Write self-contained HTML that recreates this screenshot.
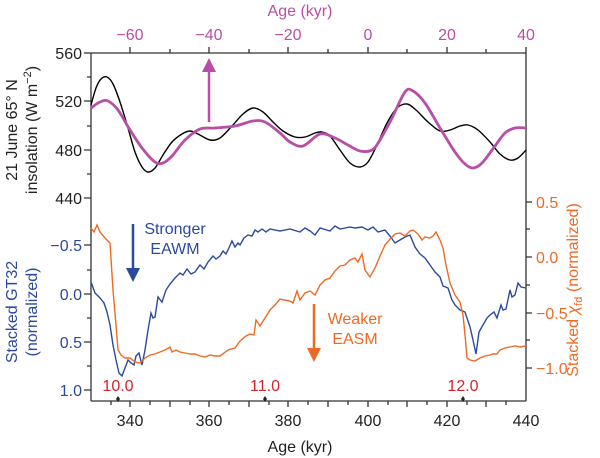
<!DOCTYPE html><html><head><style>body{margin:0;background:#fff}svg{display:block}text{font-family:"Liberation Sans",sans-serif}</style></head><body>
<svg width="600" height="458" viewBox="0 0 600 458" xmlns="http://www.w3.org/2000/svg">
<g stroke="#333" stroke-width="1.3" fill="none">
<line x1="91" y1="53" x2="91" y2="401"/><line x1="91" y1="53" x2="526" y2="53"/><line x1="91" y1="401" x2="526" y2="401"/><line x1="526" y1="53" x2="526" y2="401"/>
<path d="M130,53v-6M170,53v-4M209,53v-6M249,53v-4M288,53v-6M328,53v-4M368,53v-6M407,53v-4M447,53v-6M486,53v-4M526,53v-6"/>
<path d="M111,401v4M130,401v6M150,401v4M170,401v6M190,401v4M209,401v6M229,401v4M249,401v6M269,401v4M288,401v6M308,401v4M328,401v6M348,401v4M368,401v6M388,401v4M407,401v6M427,401v4M447,401v6M467,401v4M486,401v6M506,401v4"/>
<path d="M91,53h-7M91,77h-4M91,101h-7M91,126h-4M91,150h-7M91,174h-4M91,198h-7"/>
<path d="M91,245h-7M91,270h-4M91,294h-7M91,318h-4M91,342h-7M91,366h-4M91,390h-7"/>
<path d="M526,202h6M526,229h4M526,257h6M526,285h4M526,313h6M526,340h4M526,368h6"/>
</g>
<g font-size="16" fill="#222" text-anchor="end"><text x="82" y="59">560</text><text x="82" y="107">520</text><text x="82" y="156">480</text><text x="82" y="204">440</text></g>
<g font-size="16" fill="#2b4a9b" text-anchor="end"><text x="82" y="251">−0.5</text><text x="82" y="300">0.0</text><text x="82" y="348">0.5</text><text x="82" y="396">1.0</text></g>
<g font-size="16" fill="#ee6a24"><text x="536" y="208">0.5</text><text x="536" y="263">0.0</text><text x="536" y="319">−0.5</text><text x="536" y="374">−1.0</text></g>
<g font-size="16" fill="#222" text-anchor="middle"><text x="130" y="426">340</text><text x="209" y="426">360</text><text x="288" y="426">380</text><text x="368" y="426">400</text><text x="447" y="426">420</text><text x="526" y="426">440</text><text x="300" y="452">Age (kyr)</text></g>
<g font-size="16" fill="#b84ea6" text-anchor="middle"><text x="130" y="40">−60</text><text x="209" y="40">−40</text><text x="288" y="40">−20</text><text x="368" y="40">0</text><text x="447" y="40">20</text><text x="526" y="40">40</text><text x="300" y="16">Age (kyr)</text></g>
<g font-size="16" text-anchor="middle">
<text transform="translate(17,130) rotate(-90)" fill="#222">21 June 65° N</text>
<text transform="translate(37,130) rotate(-90)" fill="#222">insolation (W m<tspan dy="-6" font-size="11">−2</tspan><tspan dy="6">)</tspan></text>
<text transform="translate(17,312) rotate(-90)" fill="#2b4a9b">Stacked GT32</text>
<text transform="translate(37,312) rotate(-90)" fill="#2b4a9b">(normalized)</text>
<text transform="translate(578,290) rotate(-90)" fill="#ee6a24">Stacked <tspan font-style="italic">χ</tspan><tspan font-size="11" dy="4">fd</tspan><tspan dy="-4"> (normalized)</tspan></text>
</g>
<g font-size="16" fill="#d8232a" text-anchor="middle"><text x="118" y="391">10.0</text><text x="265" y="391">11.0</text><text x="463" y="391">12.0</text></g>
<g fill="#222"><path d="M118,396l-2,3 2,3 2,-3z"/><path d="M265,396l-2,3 2,3 2,-3z"/><path d="M463,396l-2,3 2,3 2,-3z"/></g>
<path id="blk" fill="none" stroke="#000" stroke-width="1.4" d=""/>
<path id="mag" fill="none" stroke="#b84ea6" stroke-width="2.8" d=""/>
<polyline fill="none" stroke="#2b4a9b" stroke-width="1.4" points="91,282 95,293 100,298 104,303 107,312 110,325 113,345 116,360 119,373 122,376 125,368 128,360 131,363 134,365 136,356 139,353 142,365 145,350 148,330 151,313 153,318 155,317 158,297 162,302 166,290 170,284 175,278 180,273 183,275 187,269 191,274 195,272 200,265 204,269 208,262 213,256 216,259 220,256 223,251 226,254 228,250 232,241 235,247 238,243 240,245 244,238 248,235 252,236 255,230 258,232 262,229 266,232 270,229 280,231 290,229 300,232 305,228 310,231 315,235 320,228 330,231 335,226 340,229 345,228 350,227 355,228 362,227 368,230 373,227 378,232 385,230 390,236 395,243 400,240 405,237 410,235 415,247 420,254 425,258 430,265 435,272 440,277 443,286 448,288 452,300 455,305 460,310 465,312 470,327 473,340 476,354 479,332 483,325 487,318 490,315 494,312 497,318 501,305 503,310 506,309 510,290 512,297 515,295 518,283 521,287 526,288"/>
<polyline fill="none" stroke="#ee6a24" stroke-width="1.4" points="91,228 94,232 97,225 100,232 105,238 110,243 113,290 116,325 118,350 121,355 125,358 130,358 135,362 140,363 145,358 150,355 155,354 160,352 165,350 170,347 172,352 176,350 180,352 185,353 190,354 195,354 200,356 205,357 210,355 215,356 220,356 228,350 235,348 240,341 246,336 250,334 254,335 256,320 260,326 265,318 270,310 275,305 280,299 284,300 290,301 293,303 297,291 300,300 305,293 310,291 315,295 320,285 325,280 330,278 335,271 340,266 345,265 350,260 355,258 358,262 362,254 365,270 370,277 375,268 380,256 385,245 390,239 395,234 400,233 405,236 410,231 413,230 418,234 422,240 425,237 430,238 433,236 436,232 438,236 440,240 443,248 446,265 450,283 455,295 460,302 463,315 465,335 467,358 470,360 475,361 480,358 485,356 490,355 493,354 497,354 500,350 505,348 510,347 515,346 520,347 526,346"/>
<line x1="209" y1="122" x2="209" y2="70" stroke="#b84ea6" stroke-width="2.5"/><path d="M202,72l7,-14 7,14z" fill="#b84ea6"/>
<line x1="133" y1="224" x2="133" y2="270" stroke="#2b4a9b" stroke-width="2.5"/><path d="M126,268l7,14 7,-14z" fill="#2b4a9b"/>
<line x1="314" y1="304" x2="314" y2="350" stroke="#ee6a24" stroke-width="2.5"/><path d="M307,348l7,14 7,-14z" fill="#ee6a24"/>
<g font-size="16" fill="#2b4a9b" text-anchor="middle"><text x="175" y="234">Stronger</text><text x="175" y="254">EAWM</text></g>
<g font-size="16" fill="#ee6a24" text-anchor="middle"><text x="355" y="324">Weaker</text><text x="355" y="344">EASM</text></g>
</svg>
<script>
function cr(s){var p=s.trim().split(/\s+/).map(function(t){return t.split(',').map(Number)});var d='M'+p[0];for(var i=0;i<p.length-1;i++){var a=p[i-1]||p[i],b=p[i],c=p[i+1],e=p[i+2]||c;d+='C'+(b[0]+(c[0]-a[0])/6)+','+(b[1]+(c[1]-a[1])/6)+' '+(c[0]-(e[0]-b[0])/6)+','+(c[1]-(e[1]-b[1])/6)+' '+c[0]+','+c[1];}return d;}
document.getElementById('blk').setAttribute('d',cr("91,105 96,88 101,79 107,77 113,84 120,102 128,128 135,152 142,167 148,172 155,168 163,155 172,142 182,134 190,131 198,134 210,140 220,138 232,126 243,114 253,108 263,112 273,122 283,131 295,137 305,137 315,133 322,132 330,136 340,150 350,163 360,167 368,162 377,145 387,123 397,108 407,104 416,110 428,122 440,131 450,130 460,126 468,125 478,130 490,142 500,154 510,160 518,158 526,150"));
document.getElementById('mag').setAttribute('d',cr("91,108 100,102 108,101 118,110 130,130 142,148 155,162 163,163 172,156 185,140 200,129 215,128 235,126 253,121 265,122 280,133 290,142 303,146 320,134 335,138 348,145 360,151 372,150 380,140 392,118 405,92 413,91 425,103 440,128 455,152 465,164 473,168 482,163 495,146 505,133 515,128 526,128"));
</script>
</body></html>
